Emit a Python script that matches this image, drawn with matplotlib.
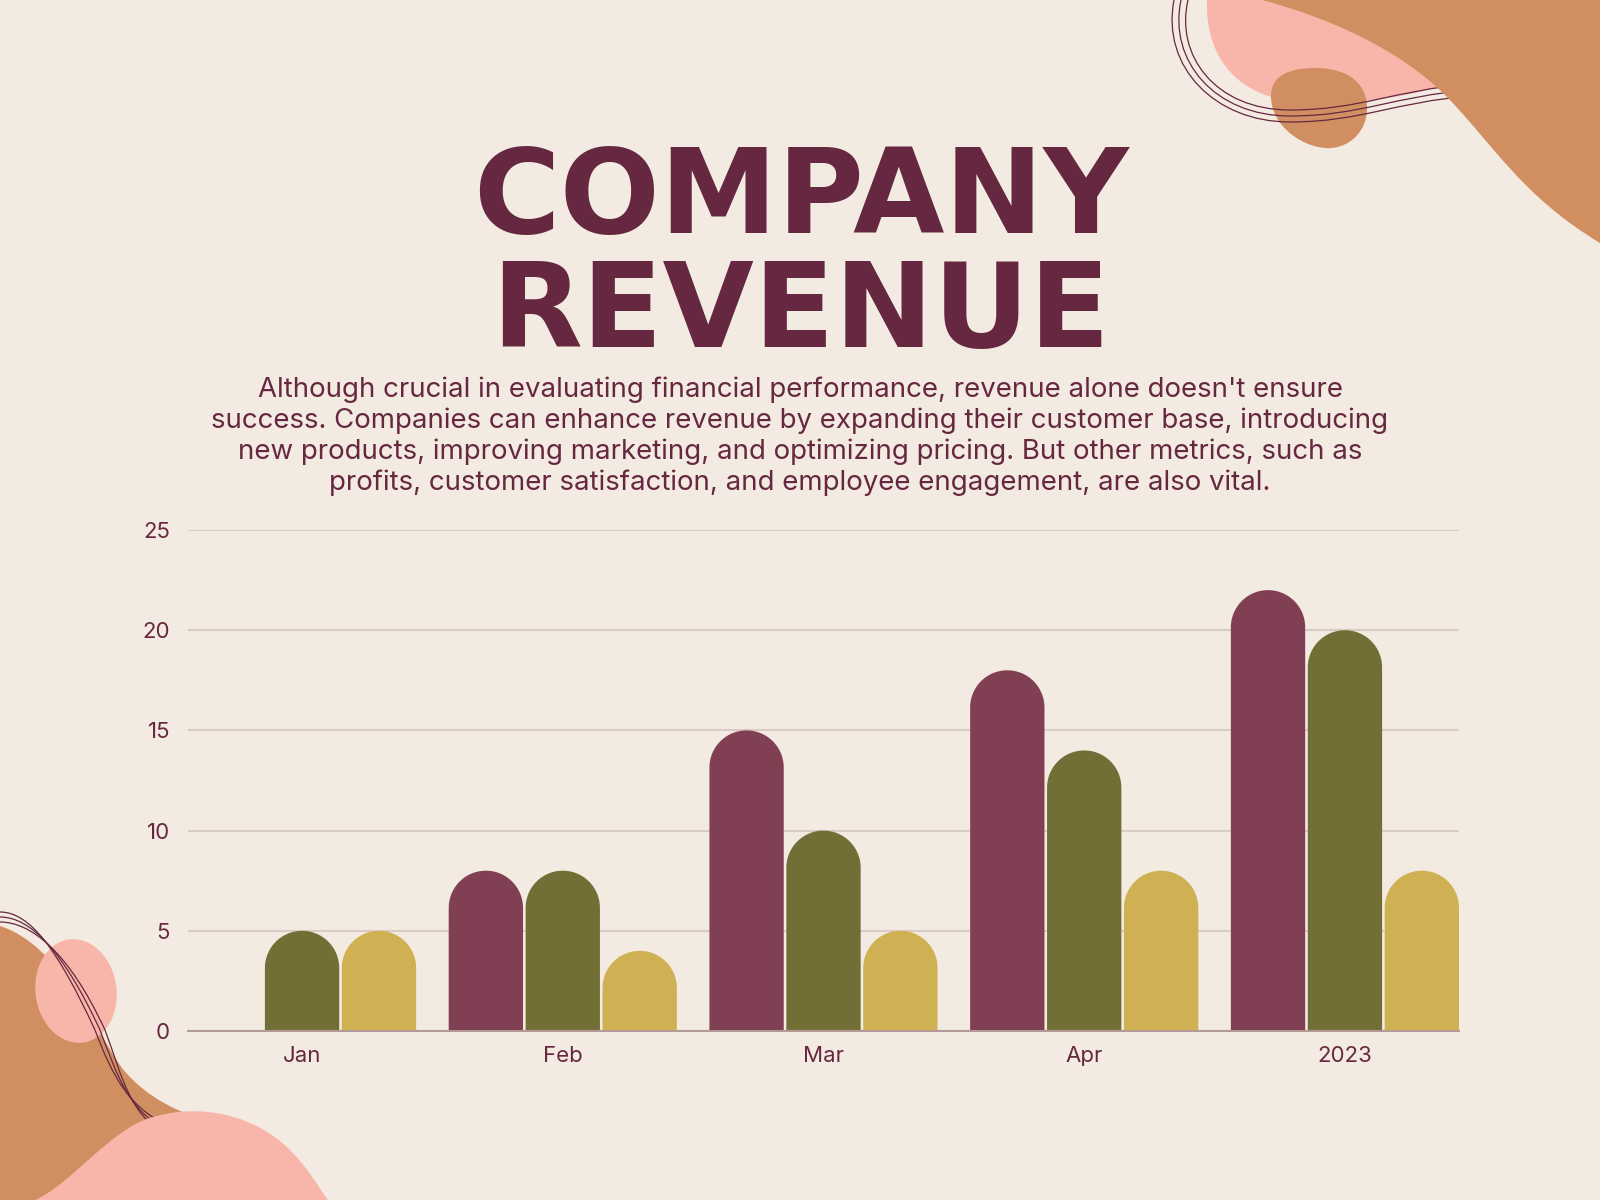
import numpy as np
import matplotlib
matplotlib.use("Agg")
from matplotlib import pyplot as plt
from matplotlib.path import Path
from matplotlib.patches import PathPatch, Ellipse
from matplotlib.transforms import Affine2D


months = ["Jan", "Feb", "Mar", "Apr", "2023"]
series_wine = [0, 8, 15, 18, 22]
series_olive = [5, 8, 10, 14, 20]
series_gold = [5, 4, 5, 8, 8]
y_ticks = [0, 5, 10, 15, 20, 25]

title = "COMPANY\nREVENUE"
blurb = ("Although crucial in evaluating financial performance, revenue alone doesn't ensure\n"
         "success. Companies can enhance revenue by expanding their customer base, introducing\n"
         "new products, improving marketing, and optimizing pricing. But other metrics, such as\n"
         "profits, customer satisfaction, and employee engagement, are also vital.")

BG = "#F3EAE1"
INK = "#662840"
WINE = "#803F53"
OLIVE = "#716F35"
GOLD = "#CFB052"
TAN = "#D18F61"
PINK = "#F8B6AA"
GRID = "#D9CCC4"


def make_path(start, segs, close=True):
    """ segs: tuples of 1 point (line) or 3 points (cubic bezier) """
    verts = [start]
    codes = [Path.MOVETO]
    for s in segs:
        if len(s) == 1:
            verts += list(s)
            codes += [Path.LINETO]
        else:
            verts += list(s)
            codes += [Path.CURVE4] * 3
    if close:
        verts.append(start)
        codes.append(Path.CLOSEPOLY)
    return Path(verts, codes)


fig = plt.figure(figsize=(16, 12), dpi=100, facecolor=BG)
# pixel coords, origin top-left
px = Affine2D().scale(1 / 1600, -1 / 1200).translate(0, 1) + fig.transFigure


def deco(path, **kw):
    fig.add_artist(PathPatch(path, transform=px, **kw))


# top right decoration
deco(make_path((1207, 0), [((1205, 60), (1240, 98), (1300, 102)),
                           ((1360, 106), (1420, 95), (1460, 80)),
                           ((1460, 0),)]), facecolor=PINK, lw=0)
deco(make_path((1315, 68), [((1350, 68), (1368, 85), (1367, 110)),
                            ((1366, 135), (1345, 150), (1325, 148)),
                            ((1300, 146), (1272, 125), (1271, 98)),
                            ((1270, 75), (1290, 68), (1315, 68))]), facecolor=TAN, lw=0)
for k in range(3):
    d = 6 * k
    deco(make_path((1188 - 7 * k, 0), [((1175 - 7 * k, 55 + d), (1215, 110 + d), (1290, 110 + d)),
                                       ((1360, 110 + d), (1395, 90 + d), (1470, 84 + d))],
                   close=False),
         facecolor="none", edgecolor=INK, lw=0.9)
deco(make_path((1262, 0), [((1330, 18), (1400, 50), (1445, 95)),
                           ((1490, 140), (1520, 195), (1600, 243)),
                           ((1600, 0),)]), facecolor=TAN, lw=0)

# bottom left decoration
deco(make_path((0, 926), [((60, 945), (95, 1030), (122, 1068)),
                          ((148, 1100), (180, 1112), (215, 1125)),
                          ((215, 1200),), ((0, 1200),)]), facecolor=TAN, lw=0)
fig.add_artist(Ellipse((76, 991), 81, 104, angle=-8, transform=px, facecolor=PINK, lw=0))
for k in range(3):
    d = 5 * k
    deco(make_path((0, 912 + d), [((30, 912 + d), (58 + d, 950), (95 + d, 1030)),
                                  ((112 + d, 1075), (130, 1112 + d), (175, 1128 + d))],
                   close=False),
         facecolor="none", edgecolor=INK, lw=0.9)
deco(make_path((35, 1200), [((70, 1185), (110, 1130), (150, 1118)),
                            ((200, 1102), (255, 1115), (290, 1150)),
                            ((310, 1170), (320, 1190), (328, 1200),)]), facecolor=PINK, lw=0)

# title and blurb (baseline anchor = last line)
fig.text(0.5006, 1 - 347 / 1200, title, ha="center", va="baseline", multialignment="center",
         fontsize=85, fontweight="heavy", family="DejaVu Sans", color=INK, linespacing=0.99)
fig.text(0.5, 1 - 436 / 1200, blurb, ha="center", va="center", multialignment="center",
         fontsize=19.9, family="Inter", color=INK, linespacing=1.22)

# chart
ax = fig.add_axes([188 / 1600, 169 / 1200, 1271 / 1600, 501 / 1200])
ax.set_facecolor("none")

x = np.arange(len(months))
bar_w = 0.285
step = 0.295
ax.set_xlim(-step - bar_w / 2, len(months) - 1 + step + bar_w / 2)
ax.set_ylim(0, 25)

groups = [(series_wine, WINE, -step), (series_olive, OLIVE, 0), (series_gold, GOLD, step)]
containers = []
for vals, color, off in groups:
    containers.append((ax.bar(x + off, vals, width=bar_w, color=color), color))

# rounded tops: keep arches circular on screen
p0 = ax.transData.transform((0, 0))
p1 = ax.transData.transform((1, 1))
ratio = (p1[0] - p0[0]) / (p1[1] - p0[1])
theta = np.linspace(0, np.pi, 50)
for cont, color in containers:
    for rect in cont:
        rect.set_visible(False)
        h = rect.get_height()
        if h <= 0:
            continue
        x0, w = rect.get_x(), rect.get_width()
        rx = w / 2
        ry = rx * ratio
        arc = np.column_stack([x0 + rx + rx * np.cos(theta), h - ry + ry * np.sin(theta)])
        verts = np.vstack([[x0, 0], [x0 + w, 0], arc, [x0, 0]])
        ax.add_patch(PathPatch(Path(verts, closed=True), facecolor=color, lw=0, zorder=2))

ax.set_yticks(y_ticks)
ax.set_xticks(x)
ax.set_xticklabels(months)
ax.grid(axis="y", color=GRID, lw=1.5)
ax.set_axisbelow(True)
for side in ["top", "right", "left"]:
    ax.spines[side].set_visible(False)
ax.spines["bottom"].set_color("#B39A96")
ax.spines["bottom"].set_linewidth(1.5)
ax.tick_params(axis="both", length=0, labelsize=16, labelcolor=INK)
ax.tick_params(axis="y", pad=13)
ax.tick_params(axis="x", pad=11)
for lab in ax.get_xticklabels() + ax.get_yticklabels():
    lab.set_family("Inter")

fig.savefig("out.png", dpi=100, facecolor=BG)
